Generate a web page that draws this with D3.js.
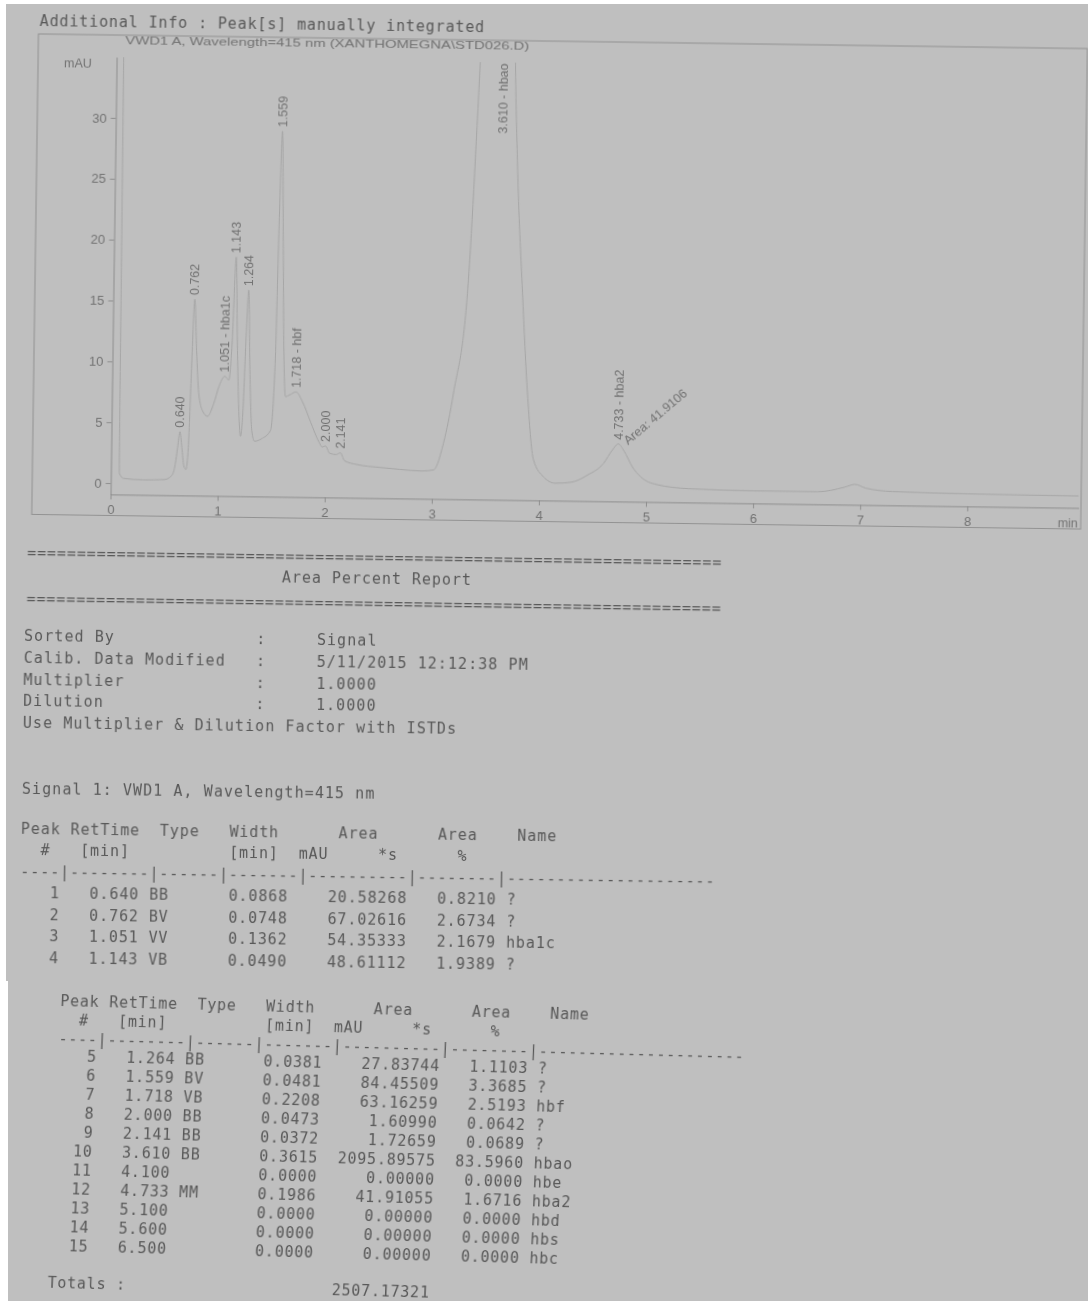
<!DOCTYPE html>
<html>
<head>
<meta charset="utf-8">
<script src="https://cdn.jsdelivr.net/npm/d3@7"></script>
<style>
body { margin: 0; background: #fff; }
svg { display: block; }
.mono { font-family: "DejaVu Sans Mono", monospace; fill: #585858; }
.lab { font-family: "Liberation Sans", Arial, sans-serif; font-size: 12.5px; fill: #727272; }
</style>
</head>
<body>
<svg id="page" width="1088" height="1301"></svg>
<script>
// peak table
const peakNo = [1, 2, 3, 4, 5, 6, 7, 8, 9, 10, 11, 12, 13, 14, 15];
const retTime = [0.640, 0.762, 1.051, 1.143, 1.264, 1.559, 1.718, 2.000, 2.141, 3.610, 4.100, 4.733, 5.100, 5.600, 6.500];
const peakType = ["BB", "BV", "VV", "VB", "BB", "BV", "VB", "BB", "BB", "BB", "", "MM", "", "", ""];
const peakWidth = [0.0868, 0.0748, 0.1362, 0.0490, 0.0381, 0.0481, 0.2208, 0.0473, 0.0372, 0.3615, 0, 0.1986, 0, 0, 0];
const peakArea = [20.58268, 67.02616, 54.35333, 48.61112, 27.83744, 84.45509, 63.16259, 1.60990, 1.72659, 2095.89575, 0, 41.91055, 0, 0, 0];
const areaPct = [0.8210, 2.6734, 2.1679, 1.9389, 1.1103, 3.3685, 2.5193, 0.0642, 0.0689, 83.5960, 0, 1.6716, 0, 0, 0];
const peakName = ["?", "?", "hba1c", "?", "?", "?", "hbf", "?", "?", "hbao", "hbe", "hba2", "hbd", "hbs", "hbc"];
const totalArea = 2507.17321;
// apex height of each labelled peak (mAU), null = not found
const apexMAU = [4.3, 15.2, 8.9, 18.7, 16.0, 29.1, 7.7, 3.3, 2.75, 91, null, 3.8, null, null, null];

// chromatogram
const traceTime = [0.000, 0.062, 0.080, 0.120, 0.300, 0.500, 0.570, 0.600, 0.620, 0.640, 0.660, 0.680, 0.700, 0.720, 0.740, 0.762, 0.785, 0.810, 0.850, 0.895,
  0.950, 1.000, 1.051, 1.090, 1.115, 1.143, 1.165, 1.190, 1.205, 1.225, 1.245, 1.264, 1.285, 1.310, 1.337, 1.400, 1.485, 1.520, 1.540, 1.559,
  1.580, 1.600, 1.620, 1.670, 1.718, 1.780, 1.860, 1.940, 1.970, 2.000, 2.040, 2.100, 2.141, 2.180, 2.300, 2.500, 2.700, 2.900, 3.012, 3.102,
  3.189, 3.306, 3.397, 3.500, 3.610, 3.690, 3.724, 3.755, 3.820, 3.879, 3.944, 4.041, 4.150, 4.300, 4.450, 4.600, 4.680, 4.733, 4.790, 4.870,
  4.950, 5.100, 5.400, 6.000, 6.600, 6.850, 6.950, 7.050, 7.300, 8.000, 9.040];
const traceMAU = [40, 40, 0.8, 0.4, 0.3, 0.35, 0.7, 1.6, 3.0, 4.3, 3.0, 1.5, 1.2, 3.0, 9.5, 15.2, 11.0, 7.5, 6.0, 5.6,
  6.6, 8.1, 8.9, 8.6, 11.5, 18.7, 11.5, 5.5, 4.0, 6.0, 12.0, 16.0, 9.5, 4.5, 3.6, 3.8, 4.5, 10, 22, 29.1,
  20, 11, 7.3, 7.5, 7.7, 6.9, 5.2, 3.6, 3.2, 3.3, 2.7, 2.6, 2.75, 2.1, 1.8, 1.6, 1.45, 1.35, 1.45, 3.67,
  7.8, 16.0, 35.2, 62, 91, 52, 35.2, 27.0, 16.1, 7.9, 2.4, 1.0, 0.5, 0.6, 1.2, 2.2, 3.3, 3.8, 3.2, 1.9,
  1.1, 0.5, 0.2, 0.1, 0.1, 0.5, 0.75, 0.45, 0.2, 0.1, 0.05];

const xTicks = [0, 1, 2, 3, 4, 5, 6, 7, 8];
const yTicks = [0, 5, 10, 15, 20, 25, 30];

const W = 1088, H = 1301;
const svg = d3.select("#page");

svg.append("defs").append("filter").attr("id", "soft")
  .append("feGaussianBlur").attr("stdDeviation", 0.45);

// scanned sheets (two pasted pieces)
svg.append("rect").attr("width", W).attr("height", H).attr("fill", "#ffffff");
svg.append("rect").attr("x", 6).attr("y", 4).attr("width", W - 6).attr("height", 977).attr("fill", "#bfbfbf");
svg.append("rect").attr("x", 8).attr("y", 981).attr("width", W - 8).attr("height", H - 981).attr("fill", "#bfbfbf");

const topSheet = svg.append("g")
  .attr("transform", "rotate(0.8,540,500)")
  .attr("filter", "url(#soft)");

// scales
const x = d3.scaleLinear().domain([0, 9.04]).range([110.5, 1078.7]);
const y = d3.scaleLinear().domain([-0.93, 35.0]).range([500.4, 63]);

// report text: a monospace line, placed word by word on its character grid
function mono(g, pitch, x0, yy, str) {
  const re = /\S+/g;
  let m;
  while ((m = re.exec(str)) !== null) {
    const word = m[0];
    for (let k = 0; k < word.length; k += 10) {
      g.append("text").attr("class", "mono")
        .style("font-size", "15px")
        .style("letter-spacing", (pitch - 15 * 0.602).toFixed(2) + "px")
        .attr("x", x0 + (m.index + k) * pitch).attr("y", yy).attr("dy", "0.35em")
        .text(word.slice(k, k + 10));
    }
  }
}

// header line
mono(topSheet, 9.9, 33, 28, "Additional Info : Peak[s] manually integrated");

// frame
topSheet.append("rect")
  .attr("x", 32).attr("y", 41).attr("width", 1049).attr("height", 480.5)
  .attr("fill", "none").attr("stroke", "#929292").attr("stroke-width", 1);

topSheet.append("text").attr("class", "lab").style("font-size", "11px")
  .attr("x", 119).attr("y", 46).attr("dy", "0.35em")
  .attr("textLength", 404).attr("lengthAdjust", "spacingAndGlyphs")
  .text("VWD1 A, Wavelength=415 nm (XANTHOMEGNA\\STD026.D)");

// axes
const yAxis = topSheet.append("g")
  .attr("transform", `translate(${x(0)},0)`)
  .call(d3.axisLeft(y).tickValues(yTicks).tickSize(5).tickPadding(4).tickSizeOuter(0));
const xAxis = topSheet.append("g")
  .attr("transform", `translate(0,${y.range()[0]})`)
  .call(d3.axisBottom(x).tickValues(xTicks).tickSize(5).tickPadding(5).tickSizeOuter(0));
[yAxis, xAxis].forEach(a => {
  a.select(".domain").attr("stroke", "#8e8e8e");
  a.selectAll(".tick line").attr("stroke", "#8e8e8e");
  a.selectAll(".tick text").attr("class", "lab").attr("fill", null).style("font-size", "13px");
});

topSheet.append("text").attr("class", "lab")
  .attr("x", 72).attr("y", 69.5).attr("dy", "0.35em").attr("text-anchor", "middle").text("mAU");
topSheet.append("text").attr("class", "lab")
  .attr("x", 1068).attr("y", 515.6).attr("dy", "0.35em").attr("text-anchor", "middle").text("min");

// trace
topSheet.append("clipPath").attr("id", "plotClip")
  .append("rect").attr("x", x.range()[0]).attr("y", y.range()[1])
  .attr("width", x.range()[1] - x.range()[0]).attr("height", y.range()[0] - y.range()[1]);

const trace = traceTime.map((t, i) => [t, traceMAU[i]]);
const line = d3.line().x(d => x(d[0])).y(d => y(d[1])).curve(d3.curveMonotoneX);
topSheet.append("path")
  .datum(trace)
  .attr("clip-path", "url(#plotClip)")
  .attr("fill", "none")
  .attr("stroke", "#a6a6a6")
  .attr("stroke-width", 1)
  .attr("d", line);

// peak labels
const yMax = y.domain()[1];
peakNo.forEach((n, i) => {
  if (apexMAU[i] == null) return;
  const txt = retTime[i].toFixed(3) + (peakName[i] !== "?" ? " - " + peakName[i] : "");
  const off = apexMAU[i] > yMax;
  const ty = off ? y(yMax) + 1 : y(apexMAU[i]) - 4;
  topSheet.append("text").attr("class", "lab")
    .attr("transform", `translate(${x(retTime[i])},${ty}) rotate(-90)`)
    .attr("dy", "0.35em")
    .attr("text-anchor", off ? "end" : "start")
    .text(txt);
});
// manual integration note on hba2
const mIdx = peakType.indexOf("MM");
topSheet.append("text").attr("class", "lab")
  .attr("transform", `translate(${x(retTime[mIdx]) + 7},${y(apexMAU[mIdx]) - 2}) rotate(-41)`)
  .attr("dy", "0.35em")
  .text("Area: " + peakArea[mIdx].toFixed(4));

// report text
function rowText(i) {
  return String(peakNo[i]).padStart(4) + " " + retTime[i].toFixed(3).padStart(7) + " " +
    peakType[i].padEnd(2) + "      " + peakWidth[i].toFixed(4).padStart(6) +
    peakArea[i].toFixed(5).padStart(12) + areaPct[i].toFixed(4).padStart(9) + " " + peakName[i];
}
const head1 = "Peak RetTime  Type   Width      Area      Area    Name";
const head2 = "  #   [min]" + " ".repeat(10) + "[min]  mAU" + " ".repeat(5) + "*s" + " ".repeat(6) + "%";
const dashes = "----|--------|------|-------|----------|--------|---------------------";

const pU = 9.93;
const eq = "=".repeat(70);
mono(topSheet, pU, 28, 559.3, eq);
mono(topSheet, 10.0, 283, 580.3, "Area Percent Report");
mono(topSheet, pU, 28, 606, eq);
mono(topSheet, 10.1, 26, 643, "Sorted By".padEnd(23) + ":     Signal");
mono(topSheet, 10.1, 26, 665, "Calib. Data Modified".padEnd(23) + ":     5/11/2015 12:12:38 PM");
mono(topSheet, 10.1, 26, 687, "Multiplier".padEnd(23) + ":     1.0000");
mono(topSheet, 10.1, 26, 708, "Dilution".padEnd(23) + ":     1.0000");
mono(topSheet, 10.1, 26, 730, "Use Multiplier & Dilution Factor with ISTDs");
mono(topSheet, 10.1, 26, 795.3, "Signal 1: VWD1 A, Wavelength=415 nm");

mono(topSheet, pU, 25.6, 835.5, head1);
mono(topSheet, pU, 25.6, 857, head2);
mono(topSheet, pU, 25.6, 879, dashes);
for (let i = 0; i < 4; i++) mono(topSheet, pU, 25.6, 900 + i * 21.6, rowText(i));

// lower pasted piece
const lowSheet = svg.append("g")
  .attr("transform", "matrix(1,0.026,-0.045,1,51.3,-10.4)")
  .attr("filter", "url(#soft)");
const pL = 9.8, x0L = 54.4;
mono(lowSheet, pL, x0L, 1009.5, head1);
mono(lowSheet, pL, x0L, 1028.5, head2);
mono(lowSheet, pL, x0L, 1047.5, dashes);
for (let i = 4; i < peakNo.length; i++) mono(lowSheet, pL, x0L, 1065 + (i - 4) * 18.95, rowText(i));
mono(lowSheet, pL, x0L, 1291, "Totals :".padEnd(27) + totalArea.toFixed(5).padStart(12));
</script>
</body>
</html>
